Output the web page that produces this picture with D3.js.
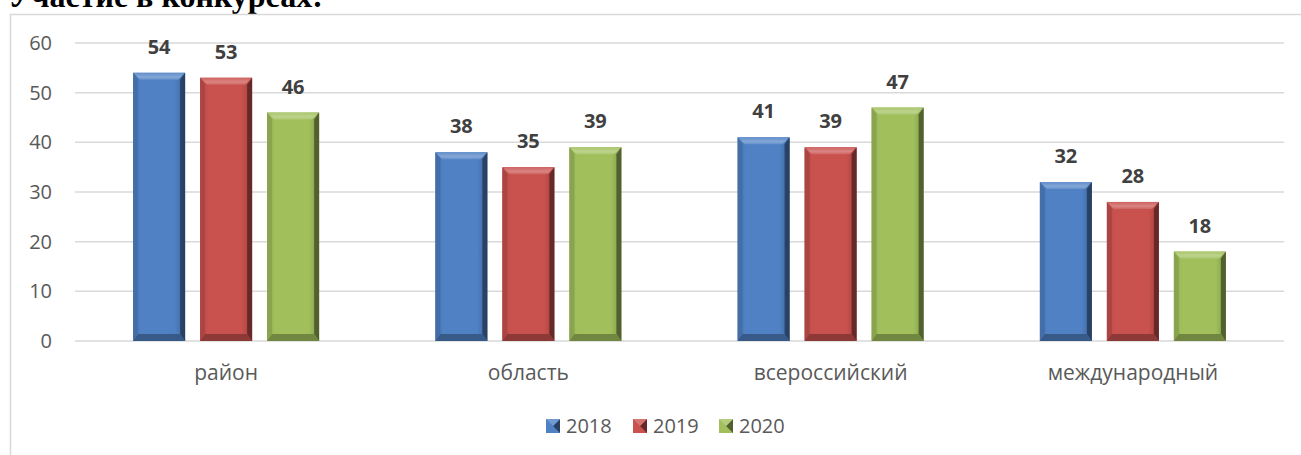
<!DOCTYPE html>
<html>
<head>
<meta charset="utf-8">
<script src="https://cdn.jsdelivr.net/npm/d3@7"></script>
<style>
  body { margin: 0; background: #fff; }
  svg { display: block; }
</style>
</head>
<body>
<svg width="1301" height="455"></svg>
<script>
const width = 1301, height = 455

const categories = ['район', 'область', 'всероссийский', 'международный'];
const years = ['2018', '2019', '2020'];
const values2018 = [54, 38, 41, 32];
const values2019 = [53, 35, 39, 28];
const values2020 = [46, 39, 47, 18];
const yTicks = [0, 10, 20, 30, 40, 50, 60];
const colors = ['#4f81c4', '#c9514e', '#a1c05c'];

const series = [values2018, values2019, values2020];
const font = '"Open Sans", Lato, sans-serif';

const svg = d3.select('svg');

// title, cut off at the top like in the document
svg.append('text')
    .attr('x', 8)
    .attr('y', 7)
    .style('font-family', '"Liberation Serif", "Times New Roman", serif')
    .style('font-weight', 'bold')
    .style('font-size', '32px')
    .style('fill', '#000')
    .text('Участие в конкурсах:');

// chart frame
svg.append('rect')
    .attr('x', 10.5).attr('y', 14.5)
    .attr('width', 1400).attr('height', 600)
    .attr('fill', 'none')
    .attr('stroke', '#d9d9d9')
    .attr('stroke-width', 1.5);

const y = d3.scaleLinear().domain([0, 60]).range([341, 43]);
const x0 = d3.scaleBand().domain(categories).range([75, 1284]);
const x1 = d3.scaleBand().domain(years)
    .range([x0.bandwidth() / 2 - 93, x0.bandwidth() / 2 + 93])
    .paddingInner(0.224);

// gridlines
svg.append('g')
    .selectAll('line')
    .data(yTicks)
    .join('line')
    .attr('x1', 75).attr('x2', 1284)
    .attr('y1', d => y(d)).attr('y2', d => y(d))
    .attr('stroke', '#d9d9d9')
    .attr('stroke-width', 1.5);

// y tick labels
svg.append('g')
    .selectAll('text')
    .data(yTicks)
    .join('text')
    .attr('x', 52)
    .attr('y', d => y(d) + 7)
    .attr('text-anchor', 'end')
    .style('font-family', font)
    .style('font-size', '20px')
    .style('fill', '#595959')
    .text(d => d);

// category labels
svg.append('g')
    .selectAll('text')
    .data(categories)
    .join('text')
    .attr('x', d => x0(d) + x0.bandwidth() / 2)
    .attr('y', 380)
    .attr('text-anchor', 'middle')
    .style('font-family', font)
    .style('font-size', '21px')
    .style('fill', '#595959')
    .text(d => d);

// gradients for the bevelled look
const defs = svg.append('defs');
function shade(c, k) {
    return k > 0 ? d3.interpolateRgb(c, '#fff')(k) : d3.interpolateRgb(c, '#000')(-k);
}
colors.forEach((c, i) => {
    const g = defs.append('linearGradient').attr('id', 'body' + i)
        .attr('x1', 0).attr('x2', 1).attr('y1', 0).attr('y2', 0);
    g.append('stop').attr('offset', 0).attr('stop-color', shade(c, -0.1));
    g.append('stop').attr('offset', 0.15).attr('stop-color', c);
    g.append('stop').attr('offset', 0.8).attr('stop-color', c);
    g.append('stop').attr('offset', 1).attr('stop-color', shade(c, -0.2));
    const t = defs.append('linearGradient').attr('id', 'top' + i)
        .attr('x1', 0).attr('x2', 0).attr('y1', 0).attr('y2', 1);
    t.append('stop').attr('offset', 0).attr('stop-color', shade(c, 0.1));
    t.append('stop').attr('offset', 0.6).attr('stop-color', shade(c, 0.3));
    t.append('stop').attr('offset', 1).attr('stop-color', shade(c, 0.12));
});

// bars
const barData = [];
categories.forEach((cat, ci) => {
    years.forEach((yr, si) => {
        barData.push({ cat, yr, si, value: series[si][ci] });
    });
});

const bars = svg.append('g')
    .selectAll('g')
    .data(barData)
    .join('g')
    .attr('transform', d => `translate(${x0(d.cat) + x1(d.yr)},0)`);

const bw = x1.bandwidth();
const bv = 7; // bevel size

bars.append('rect')
    .attr('x', 0)
    .attr('y', d => y(d.value))
    .attr('width', bw)
    .attr('height', d => y(0) - y(d.value))
    .attr('fill', d => `url(#body${d.si})`);

// top bevel
bars.append('path')
    .attr('d', d => {
        const t = y(d.value);
        return `M0,${t} L${bw},${t} L${bw - bv},${t + bv} L${bv},${t + bv} Z`;
    })
    .attr('fill', d => `url(#top${d.si})`);

// right side
bars.append('path')
    .attr('d', d => {
        const t = y(d.value), b = y(0);
        return `M${bw},${t} L${bw},${b} L${bw - bv + 2},${b - bv} L${bw - bv + 2},${t + bv} Z`;
    })
    .attr('fill', d => shade(colors[d.si], -0.55))
    .attr('opacity', 0.85);

// left side
bars.append('path')
    .attr('d', d => {
        const t = y(d.value), b = y(0);
        return `M0,${t} L${bv - 2},${t + bv} L${bv - 2},${b - bv} L0,${b} Z`;
    })
    .attr('fill', d => shade(colors[d.si], -0.15));

// bottom bevel
bars.append('path')
    .attr('d', d => {
        const b = y(0);
        return `M0,${b} L${bv - 2},${b - bv} L${bw - bv + 2},${b - bv} L${bw},${b} Z`;
    })
    .attr('fill', d => shade(colors[d.si], -0.3));

// value labels
bars.append('text')
    .attr('x', bw / 2)
    .attr('y', d => y(d.value) - 19)
    .attr('text-anchor', 'middle')
    .style('font-family', font)
    .style('font-weight', 'bold')
    .style('font-size', '20px')
    .style('fill', '#404040')
    .text(d => d.value);

// legend
const legendX = [546, 633, 719];
const legend = svg.append('g')
    .selectAll('g')
    .data(years)
    .join('g')
    .attr('transform', (d, i) => `translate(${legendX[i]},419)`);

legend.append('rect')
    .attr('width', 14).attr('height', 14)
    .attr('fill', (d, i) => colors[i]);
legend.append('path')
    .attr('d', 'M14,0 L14,14 L7,7 Z')
    .attr('fill', (d, i) => shade(colors[i], -0.5));
legend.append('path')
    .attr('d', 'M0,0 L14,0 L7,7 Z')
    .attr('fill', (d, i) => shade(colors[i], 0.2));
legend.append('text')
    .attr('x', 20)
    .attr('y', 14)
    .style('font-family', font)
    .style('font-size', '20px')
    .style('fill', '#595959')
    .text(d => d);
</script>
</body>
</html>
